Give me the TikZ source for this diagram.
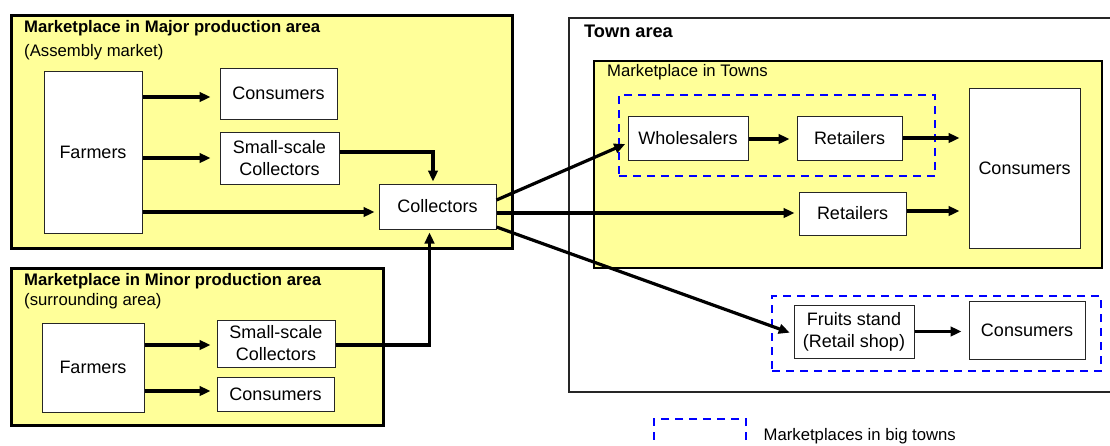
\documentclass[tikz,border=0pt]{standalone}
\usepackage{fontspec}
\setmainfont{Liberation Sans}
\usetikzlibrary{arrows.meta}
\definecolor{areayellow}{RGB}{255,255,153}
\definecolor{dashblue}{RGB}{0,0,255}
\begin{document}
\begin{tikzpicture}[x=1pt,y=-1pt,
  area/.style={draw=black,fill=areayellow,line width=3pt,inner sep=0pt},
  townarea/.style={draw=black!85,line width=1.5pt,inner sep=0pt},
  bigtown/.style={draw=dashblue,line width=2.5pt,dash pattern=on 8pt off 6pt,inner sep=0pt},
  actor/.style={draw=black!85,fill=white,line width=1pt,inner sep=0pt,align=center,
    font=\fontsize{18}{22}\selectfont},
  heading/.style={anchor=west,inner sep=0pt,font=\fontsize{16.7}{20}\selectfont\bfseries},
  subheading/.style={anchor=west,inner sep=0pt,font=\fontsize{16.7}{20}\selectfont},
  flow/.style={line width=3.2pt,-{Triangle[length=11pt,width=9.5pt]}}]
\useasboundingbox (0,0) rectangle (1110,445);
\clip (0,0) rectangle (1110,445);

% production areas
\node[area,minimum width=501,minimum height=233] (major) at (261.5,131.5) {};
\node[area,minimum width=372,minimum height=157] (minor) at (197,346.5) {};
\node[heading] (majort) at (24,28) {Marketplace in Major production area};
\node[subheading] (majors) at (24,52) {(Assembly market)};
\node[heading] (minort) at (24,281) {Marketplace in Minor production area};
\node[subheading] (minors) at (24,301) {(surrounding area)};

% town area
\node[townarea,minimum width=560,minimum height=374] (town) at (849,205) {};
\node[heading,font=\fontsize{18.2}{22}\selectfont\bfseries] (townt) at (584,31) {Town area};
\node[area,line width=2.5pt,minimum width=508,minimum height=207] (towns) at (848,164.5) {};
\node[subheading] (townst) at (607,72) {Marketplace in Towns};
\node[bigtown,minimum width=316,minimum height=81] (big1) at (777,135.5) {};
\node[bigtown,minimum width=329,minimum height=75] (big2) at (936.5,333.5) {};

% legend
\node[bigtown,minimum width=92,minimum height=41] (legbox) at (700,439.5) {};
\node[subheading] (legtext) at (763.5,436) {Marketplaces in big towns};

% actors
\node[actor,minimum width=98,minimum height=162] (farm1) at (93,152) {Farmers};
\node[actor,minimum width=117,minimum height=51] (cons1) at (278.5,93.5) {Consumers};
\node[actor,minimum width=119,minimum height=52] (ssc1) at (279.5,158) {Small-scale\\Collectors};
\node[actor,minimum width=117,minimum height=45] (coll) at (437.5,206.5) {Collectors};
\node[actor,minimum width=102,minimum height=89] (farm2) at (93,367.5) {Farmers};
\node[actor,minimum width=118,minimum height=47] (ssc2) at (276,343.5) {Small-scale\\Collectors};
\node[actor,minimum width=117,minimum height=34] (cons2) at (275.5,394) {Consumers};
\node[actor,minimum width=120,minimum height=44] (whol) at (688,138) {Wholesalers};
\node[actor,minimum width=105,minimum height=44] (ret1) at (849.5,138) {Retailers};
\node[actor,minimum width=111,minimum height=160] (cons3) at (1024.5,168) {Consumers};
\node[actor,minimum width=107,minimum height=43] (ret2) at (852.5,213.5) {Retailers};
\node[actor,minimum width=120,minimum height=53] (fruit) at (854,331.5) {Fruits stand\\(Retail shop)};
\node[actor,minimum width=116,minimum height=58] (cons4) at (1027,330) {Consumers};

% flows in the major production area
\draw[flow,shorten >=9pt] ([yshift=-3.5pt]farm1.east |- cons1.west) -- ([yshift=-3.5pt]cons1.west);
\draw[flow,shorten >=9pt] (farm1.east |- ssc1.west) -- (ssc1.west);
\draw[flow,shorten >=4pt] ([yshift=-5.5pt]farm1.east |- coll.west) -- ([yshift=-5.5pt]coll.west);
\draw[flow,shorten >=2pt] ([yshift=6pt]ssc1.east) -| ([xshift=-4.5pt]coll.north);

% flows in the minor production area
\draw[flow,shorten >=6pt] ([yshift=-1.5pt]farm2.east |- ssc2.west) -- ([yshift=-1.5pt]ssc2.west);
\draw[flow,shorten >=6pt] ([yshift=3pt]farm2.east |- cons2.west) -- ([yshift=3pt]cons2.west);
\draw[flow,shorten >=3pt] ([yshift=-1.5pt]ssc2.east) -| ([xshift=-8pt]coll.south);

% flows towards the towns
\draw[flow,shorten >=2.5pt] ([yshift=6.5pt]coll.east) -- ([yshift=-5pt]whol.west);
\draw[flow,shorten >=4pt] ([yshift=-6.5pt]coll.east) -- ([yshift=-6.5pt]coll.east -| ret2.west);
\draw[flow,shorten >=4pt] ([yshift=-20.5pt]coll.east) -- ([yshift=-2.5pt]fruit.west);

% flows inside the town area
\draw[flow,shorten >=7pt] ([yshift=-1pt]whol.east) -- ([yshift=-1pt]ret1.west);
\draw[flow,shorten >=9pt] (ret1.east) -- (ret1.east -| cons3.west);
\draw[flow,shorten >=9pt] ([yshift=2.5pt]ret2.east) -- ([yshift=2.5pt]ret2.east -| cons3.west);
\draw[flow,shorten >=7pt] (fruit.east) -- (fruit.east -| cons4.west);
\end{tikzpicture}
\end{document}
